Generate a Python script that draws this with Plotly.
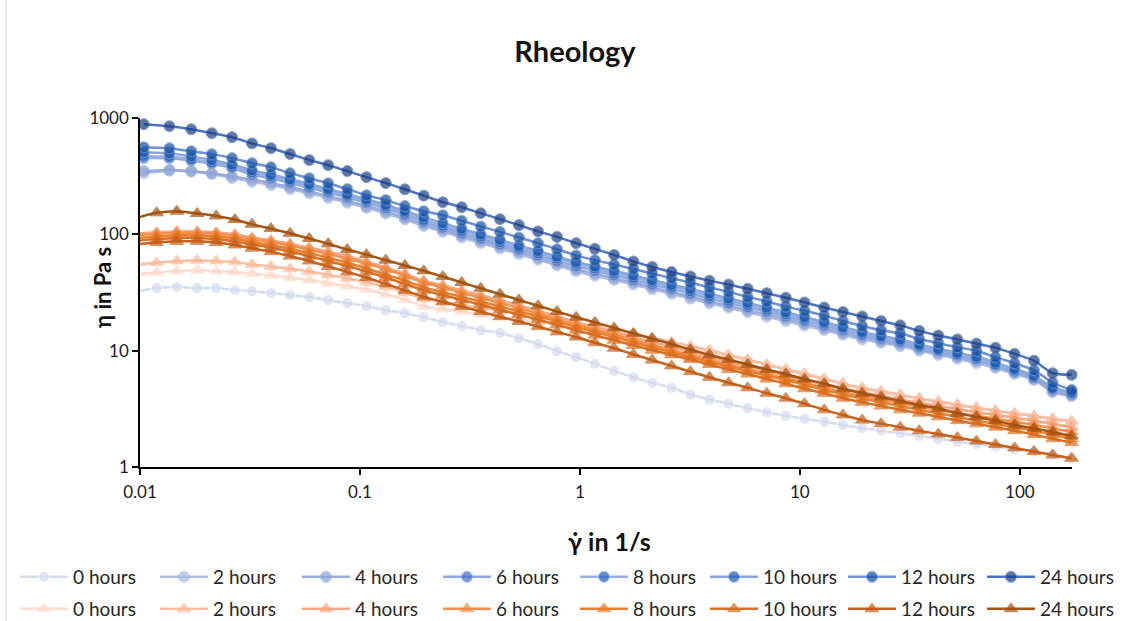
import plotly.graph_objects as go

# ---------------- data ----------------
hours = ["0 hours", "2 hours", "4 hours", "6 hours", "8 hours", "10 hours", "12 hours", "24 hours"]

# shear rate (1/s) for blue series 2h..24h
shear_blue = [0.0104, 0.0136, 0.0171, 0.0212, 0.0262,
              0.0323, 0.0394, 0.0481, 0.0588, 0.0717, 0.0876, 0.107, 0.131, 0.160, 0.195,
              0.238, 0.290, 0.354, 0.433, 0.528, 0.645, 0.787, 0.961,
              1.17, 1.43, 1.75, 2.13, 2.61, 3.18, 3.88,
              4.74, 5.79, 7.07, 8.63, 10.5, 12.9, 15.7, 19.2,
              23.4, 28.6, 34.9, 42.6, 52.0, 63.5, 77.5, 94.6, 116, 141, 172]

# shear rate (1/s) for orange series and blue 0h
shear_orange = [0.0096, 0.0119, 0.0147, 0.0182, 0.0222, 0.0270,
                0.0323, 0.0394, 0.0481, 0.0588, 0.0717, 0.0876, 0.107, 0.131, 0.160, 0.195,
                0.238, 0.290, 0.354, 0.433, 0.528, 0.645, 0.787, 0.961,
                1.17, 1.43, 1.75, 2.13, 2.61, 3.18, 3.88,
                4.74, 5.79, 7.07, 8.63, 10.5, 12.9, 15.7, 19.2,
                23.4, 28.6, 34.9, 42.6, 52.0, 63.5, 77.5, 94.6, 116, 141, 172]

# viscosity (Pa s), blue series
blue_0h = [32, 34.5, 35.2, 34.5, 34.5, 33.2,
           32.5, 31.3, 30.0, 28.9, 27.2, 25.6, 24.2, 22.3, 21.0, 19.4,
           17.6, 16.3, 15.0, 14.2, 12.8, 11.4, 9.9, 8.8,
           7.7, 6.7, 5.9, 5.3, 4.8, 4.2, 3.8,
           3.5, 3.2, 2.95, 2.75, 2.6, 2.45, 2.3, 2.15,
           2.05, 1.95, 1.85, 1.75, 1.65, 1.57, 1.5, 1.42, 1.35, 1.28, 1.18]
blue_2h = [335, 352, 347, 330, 305,
           283, 265, 245, 225, 206, 187, 169, 151, 134, 118,
           105, 94, 84, 75.5, 67.5, 60.5, 54, 48,
           44, 40.5, 37, 33.7, 30.8, 28, 25.5,
           23.4, 21.4, 19.6, 17.9, 16.4, 15.0, 13.7, 12.5,
           11.7, 10.9, 10.0, 9.2, 8.5, 7.8, 7.1, 6.3, 5.6, 4.4, 4.05]
blue_4h = [350, 358, 350, 335, 315,
           295, 276, 255, 234, 214, 194, 175, 157, 139, 122,
           109, 97.5, 87.5, 78.5, 70.5, 63, 56, 50,
           46, 42, 38.5, 35, 32, 29.2, 26.5,
           24.3, 22.3, 20.4, 18.7, 17.1, 15.6, 14.2, 13.0,
           12.1, 11.3, 10.3, 9.5, 8.8, 8.1, 7.3, 6.5, 5.7, 4.5, 4.15]
blue_6h = [452, 450, 430, 405, 372,
           325, 302, 277, 252, 229, 207, 187, 167, 147, 128,
           114, 102, 92, 82, 74, 66, 59, 53,
           48.5, 44.5, 40.5, 37, 34, 31, 28,
           25.7, 23.6, 21.6, 19.7, 18.0, 16.4, 14.9, 13.6,
           12.6, 11.8, 10.7, 9.9, 9.1, 8.4, 7.5, 6.6, 5.8, 4.6, 4.2]
blue_8h = [470, 465, 442, 415, 382,
           340, 315, 288, 262, 238, 215, 194, 174, 153, 133,
           119, 107, 96, 86, 77, 69, 62, 56,
           51, 46.5, 42.5, 39, 35.5, 32.5, 29.5,
           27, 24.7, 22.6, 20.6, 18.8, 17.1, 15.5, 14.0,
           13.0, 12.1, 11.0, 10.1, 9.3, 8.6, 7.6, 6.8, 5.9, 4.7, 4.3]
blue_10h = [508, 498, 468, 436, 398,
            355, 327, 298, 271, 246, 222, 200, 180, 159, 140,
            125, 112, 100, 90, 80, 72, 64.5, 58,
            53, 48.5, 44.5, 40.5, 37, 34, 31,
            28.2, 25.8, 23.5, 21.4, 19.5, 17.7, 16.0, 14.5,
            13.4, 12.5, 11.3, 10.4, 9.6, 8.9, 7.9, 7.0, 6.1, 4.8, 4.4]
blue_12h = [561, 550, 518, 489, 452,
            409, 378, 336, 304, 275, 245, 217, 197, 175, 158,
            146, 131, 117, 105, 94, 84, 74.5, 66,
            60, 55, 50.5, 46, 42, 38.5, 35,
            32, 29, 26.5, 24, 22, 20, 18, 16.3,
            15.0, 14.1, 12.6, 11.6, 10.7, 10.0, 8.8, 7.8, 6.8, 5.3, 4.6]
blue_24h = [885, 850, 800, 740, 684,
            605, 550, 490, 435, 393, 350, 310, 276, 244, 215,
            189, 171, 152, 135, 120, 106, 95, 84,
            75, 66.5, 58.5, 52.5, 47.5, 43.5, 40,
            37, 34, 31.2, 28.5, 26, 23.5, 21.5, 19.7,
            18.0, 16.5, 14.8, 13.5, 12.5, 11.5, 10.6, 9.4, 8.2, 6.4, 6.2]

# viscosity (Pa s), orange series
orange_0h = [45, 47, 48.5, 49, 48.5, 47.5,
             46, 44.5, 42.5, 40.5, 38, 36, 33.5, 30.5, 27.5, 24,
             22.8, 21.6, 20.5, 19.5, 18.6, 17.6, 16.6, 15.6,
             14.6, 13.7, 12.8, 11.9, 11.1, 10.4, 9.8,
             9.0, 8.3, 7.6, 7.0, 6.4, 5.8, 5.2, 4.7,
             4.4, 4.1, 3.85, 3.6, 3.4, 3.2, 3.05, 2.9, 2.75, 2.62, 2.5]
orange_2h = [55, 57, 59, 60, 59, 58,
             55, 53, 50.5, 48, 45, 42, 39, 35.5, 31.5, 28,
             26.3, 24.8, 23.4, 22.1, 20.9, 19.8, 18.6, 17.5,
             16.2, 15.0, 13.9, 12.9, 11.9, 11.0, 10.1,
             9.2, 8.4, 7.6, 6.9, 6.3, 5.7, 5.2, 4.8,
             4.5, 4.2, 3.9, 3.65, 3.45, 3.25, 3.05, 2.9, 2.75, 2.6, 2.45]
orange_4h = [102, 104, 106, 106, 104, 100,
             94, 89, 83, 77, 71, 65, 58.5, 52, 46, 40,
             36.5, 33, 30, 27.2, 24.6, 22.1, 19.7, 17.5,
             15.9, 14.4, 13.1, 11.9, 10.8, 9.7, 8.8,
             8.0, 7.3, 6.7, 6.1, 5.6, 5.1, 4.7, 4.4,
             4.1, 3.8, 3.55, 3.35, 3.15, 2.95, 2.8, 2.65, 2.5, 2.35, 2.2]
orange_6h = [98, 101, 103, 103, 101, 97,
             91, 86, 80, 74, 68, 62, 56, 50, 44, 38.5,
             35, 31.5, 28.5, 25.8, 23.3, 21, 18.7, 16.6,
             15.1, 13.7, 12.4, 11.2, 10.1, 9.2, 8.3,
             7.6, 6.9, 6.3, 5.8, 5.3, 4.8, 4.4, 4.1,
             3.8, 3.55, 3.3, 3.1, 2.9, 2.75, 2.6, 2.45, 2.3, 2.15, 2.0]
orange_8h = [93, 96, 98, 98, 96, 92,
             86, 81, 75, 69, 63, 57, 51, 45, 40, 35,
             31.8, 29, 26.4, 24, 21.8, 19.8, 17.8, 16,
             14.5, 13.1, 11.8, 10.7, 9.7, 8.8, 8.0,
             7.3, 6.7, 6.1, 5.6, 5.1, 4.6, 4.2, 3.9,
             3.6, 3.35, 3.1, 2.9, 2.7, 2.5, 2.35, 2.2, 2.05, 1.9, 1.75]
orange_10h = [88, 91, 93, 93, 91, 87,
              82, 77, 71, 65, 59, 53.5, 48, 42.5, 37.5, 33,
              30, 27.3, 24.8, 22.5, 20.4, 18.5, 16.7, 15,
              13.6, 12.3, 11.1, 10.1, 9.2, 8.4, 7.6,
              6.9, 6.3, 5.7, 5.2, 4.7, 4.3, 3.9, 3.6,
              3.35, 3.1, 2.9, 2.7, 2.5, 2.35, 2.2, 2.05, 1.9, 1.75, 1.62]
orange_12h = [82, 85, 87, 87, 85, 81,
              76, 71, 65, 59, 53, 47.5, 42.5, 37.5, 33, 29,
              26.3, 23.9, 21.7, 19.6, 17.8, 16.1, 14.5, 13.1,
              11.7, 10.5, 9.3, 8.3, 7.4, 6.6, 5.9,
              5.3, 4.8, 4.3, 3.9, 3.5, 3.1, 2.8, 2.53,
              2.36, 2.2, 2.05, 1.92, 1.79, 1.67, 1.56, 1.46, 1.36, 1.27, 1.19]
orange_24h = [138, 153, 158, 151, 144, 134,
              122, 112, 102, 92, 83, 74, 67, 60, 54, 48.5,
              43.3, 38.6, 34.4, 30.6, 27.3, 24.3, 21.7, 19.4,
              17.5, 15.7, 14.1, 12.7, 11.4, 10.2, 9.2,
              8.4, 7.6, 6.9, 6.3, 5.7, 5.2, 4.7, 4.3,
              4.0, 3.7, 3.4, 3.2, 2.9, 2.7, 2.5, 2.3, 2.15, 2.0, 1.85]

x_tick_vals = [0.01, 0.1, 1, 10, 100]
x_tick_text = ["0.01", "0.1", "1", "10", "100"]
y_tick_vals = [1, 10, 100, 1000]
y_tick_text = ["1", "10", "100", "1000"]

blue_series = [blue_0h, blue_2h, blue_4h, blue_6h, blue_8h, blue_10h, blue_12h, blue_24h]
orange_series = [orange_0h, orange_2h, orange_4h, orange_6h, orange_8h, orange_10h, orange_12h, orange_24h]

# ---------------- styles ----------------
blue_marker = ['#D6DBEF', '#A9B9E0', '#8DA2D6', '#4570C3', '#2061B6', '#1859AB', '#15509E', '#1C3E7D']
blue_line = ['#D6DBEF', '#ADBDE2', '#96ABDB', '#8FA8DD', '#96AFE0', '#88A5DC', '#6F91D4', '#4A73C5']
orange_marker = ['#FDD8CB', '#FAB899', '#F7A078', '#F3883F', '#E67A25', '#D86C1E', '#C45D16', '#A3510F']
orange_line = ['#FDDBCF', '#FBBDA0', '#F8A681', '#F48F4C', '#E8802F', '#DA7026', '#C7611B', '#A85512']

FONT = "Lato"
W, H = 1137, 621
L, R, T, B = 140, 65, 118, 154

# legend entry left edges (px) and row centres (px)
legend_x_px = [15, 155, 297, 438, 575, 705, 843, 982]
legend_row_y_px = [577, 609]

fig = go.Figure()
legend_layout = {}


def legend_key(n):
    return "legend" if n == 1 else f"legend{n}"


for row, (series, xs_default, symbol, msize, mcolors, lcolors) in enumerate([
        (blue_series, shear_blue, "circle", 11, blue_marker, blue_line),
        (orange_series, shear_orange, "triangle-up", 12, orange_marker, orange_line)]):
    for i, name in enumerate(hours):
        xs = shear_orange if (row == 0 and i == 0) else xs_default
        sizes = [0 if xv < 0.01 else msize for xv in xs]
        n = row * 8 + i + 1
        key = legend_key(n)
        fig.add_trace(go.Scatter(
            x=xs, y=series[i], name=name, mode="lines+markers",
            line=dict(color=lcolors[i], width=2.5, shape="spline", smoothing=0.6),
            marker=dict(symbol=symbol, size=sizes, color=mcolors[i]),
            cliponaxis=False, legend=key,
        ))
        legend_layout[key] = dict(
            orientation="h", xref="container", yref="container",
            x=legend_x_px[i] / W, xanchor="left",
            y=1 - legend_row_y_px[row] / H, yanchor="middle",
            itemwidth=48,
            font=dict(family=FONT, size=19, color="#262626"),
            bgcolor="rgba(0,0,0,0)")

fig.update_layout(
    width=W, height=H,
    margin=dict(l=L, r=R, t=T, b=B),
    paper_bgcolor="white", plot_bgcolor="white",
    font=dict(family=FONT, color="#262626"),
    title=dict(text="<b>Rheology</b>", x=575 / W, xanchor="center",
               y=1 - 52 / H, yanchor="middle",
               font=dict(family=FONT, size=29, color="#111111")),
    xaxis=dict(type="log", range=[-2, 2.2372], tickvals=x_tick_vals, ticktext=x_tick_text,
               showgrid=False, zeroline=False, showline=True, linecolor="#000000", linewidth=1.5,
               ticks="outside", ticklen=6, tickwidth=1.5, tickcolor="#000000",
               ticklabelstandoff=3,
               tickfont=dict(family=FONT, size=17, color="#1a1a1a")),
    yaxis=dict(type="log", range=[0, 3], tickvals=y_tick_vals, ticktext=y_tick_text,
               showgrid=False, zeroline=False, showline=True, linecolor="#000000", linewidth=1.5,
               ticks="outside", ticklen=6, tickwidth=1.5, tickcolor="#000000",
               tickfont=dict(family=FONT, size=17, color="#1a1a1a")),
    showlegend=True,
    **legend_layout,
)

pw = W - L - R
ph = H - T - B
fig.add_annotation(text="<b>η in Pa s</b>", xref="paper", yref="paper",
                   x=(102 - L) / pw, y=(H - B - 288) / ph, textangle=-90,
                   showarrow=False, xanchor="center", yanchor="middle",
                   font=dict(family=FONT, size=22, color="#111111"))
fig.add_annotation(text="<b>γ̇ in 1/s</b>", xref="paper", yref="paper",
                   x=(609 - L) / pw, y=(H - B - 541) / ph,
                   showarrow=False, xanchor="center", yanchor="middle",
                   font=dict(family=FONT, size=25, color="#111111"))

# chart-area border on the left edge
fig.add_shape(type="line", xref="paper", yref="paper",
              x0=(6 - L) / pw, x1=(6 - L) / pw, y0=(H - B - 0) / ph, y1=(H - B - H) / ph,
              line=dict(color="#D9D9D9", width=1))

fig.write_html("out.html", config={"displayModeBar": False},
               post_script="document.body.style.margin='0';document.body.style.overflow='hidden';")
